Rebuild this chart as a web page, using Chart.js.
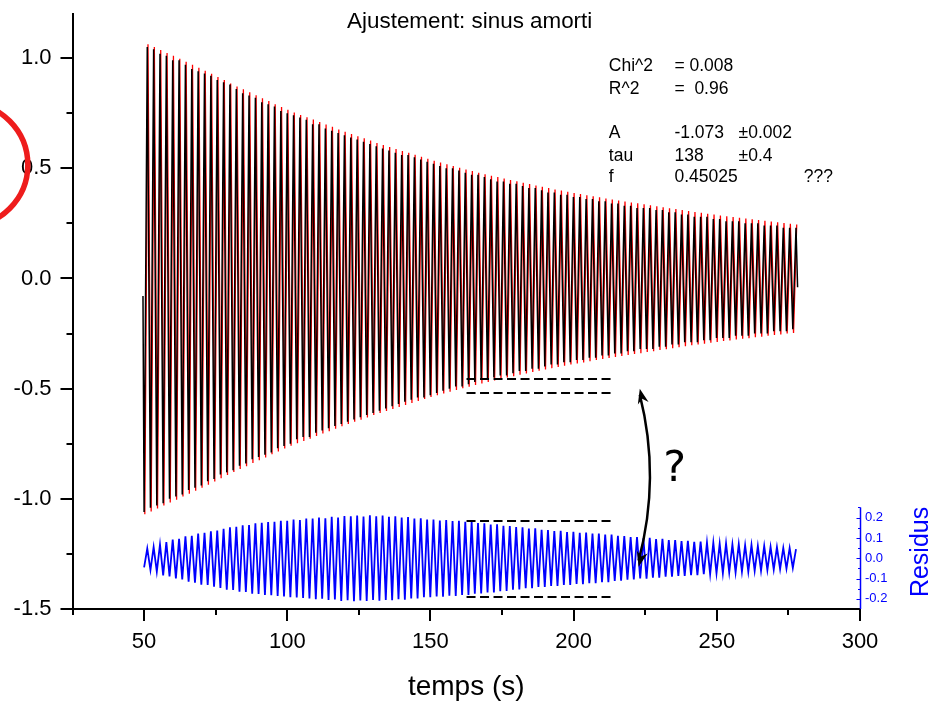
<!DOCTYPE html>
<html>
<head>
<meta charset="utf-8">
<script src="https://cdn.jsdelivr.net/npm/chart.js@4.4.1/dist/chart.umd.min.js"></script>
<style>
html,body{margin:0;padding:0;background:#fff;}
#wrap{width:947px;height:701px;}
</style>
</head>
<body>
<div id="wrap"><canvas id="c" width="947" height="701"></canvas></div>
<script>
// ---------------- data ----------------
const titleText = "Ajustement: sinus amorti";
const xTitle = "temps (s)";
const residTitle = "Residus";

const startTime = 50.0;      // first extreme (s)
const halfPeriod = 1.1105;   // half of 1/f, f = 0.45025

// measured signal (black): troughs and peaks, one per cycle
const dataTroughs = [-1.06,-1.04,-1.03,-1.02,-1.00,-0.99,-0.98,-0.96,-0.95,-0.94,
 -0.92,-0.91,-0.89,-0.88,-0.87,-0.85,-0.84,-0.82,-0.81,-0.80,
 -0.79,-0.77,-0.76,-0.75,-0.73,-0.72,-0.72,-0.70,-0.69,-0.68,
 -0.67,-0.66,-0.65,-0.64,-0.63,-0.62,-0.61,-0.60,-0.59,-0.58,
 -0.57,-0.56,-0.55,-0.54,-0.54,-0.53,-0.52,-0.51,-0.50,-0.49,
 -0.49,-0.48,-0.47,-0.46,-0.46,-0.45,-0.44,-0.44,-0.43,-0.42,
 -0.42,-0.41,-0.41,-0.40,-0.39,-0.39,-0.38,-0.38,-0.37,-0.37,
 -0.36,-0.36,-0.35,-0.35,-0.34,-0.34,-0.33,-0.33,-0.32,-0.32,
 -0.32,-0.31,-0.31,-0.30,-0.30,-0.29,-0.29,-0.29,-0.28,-0.28,
 -0.27,-0.27,-0.27,-0.26,-0.26,-0.26,-0.25,-0.25,-0.25,-0.24,
 -0.24,-0.24,-0.23];
const dataPeaks = [1.05,1.04,1.02,1.01,0.99,0.99,0.97,0.95,0.94,0.93,
 0.92,0.90,0.89,0.88,0.86,0.84,0.83,0.82,0.80,0.79,
 0.78,0.76,0.75,0.74,0.73,0.72,0.70,0.70,0.68,0.67,
 0.66,0.65,0.64,0.63,0.62,0.61,0.60,0.59,0.58,0.57,
 0.56,0.56,0.55,0.54,0.53,0.52,0.51,0.50,0.50,0.49,
 0.48,0.47,0.47,0.46,0.45,0.44,0.44,0.43,0.43,0.42,
 0.41,0.41,0.40,0.39,0.39,0.38,0.38,0.37,0.37,0.36,
 0.36,0.35,0.35,0.34,0.34,0.33,0.33,0.32,0.32,0.32,
 0.31,0.31,0.30,0.30,0.29,0.29,0.28,0.28,0.28,0.27,
 0.27,0.26,0.26,0.26,0.25,0.25,0.25,0.24,0.24,0.24,
 0.23,0.23,0.23];
const dataEnds = [-0.08, -0.04];   // value just before the first and after the last extreme

// fitted damped sine (red)
const fitTroughs = [-1.070,-1.057,-1.044,-1.030,-1.017,-1.004,-0.990,-0.977,-0.963,-0.950,
 -0.936,-0.921,-0.907,-0.892,-0.878,-0.865,-0.852,-0.838,-0.825,-0.812,
 -0.798,-0.785,-0.772,-0.759,-0.748,-0.738,-0.727,-0.715,-0.704,-0.693,
 -0.682,-0.671,-0.660,-0.650,-0.641,-0.631,-0.620,-0.611,-0.601,-0.592,
 -0.583,-0.574,-0.565,-0.556,-0.547,-0.538,-0.530,-0.522,-0.514,-0.506,
 -0.498,-0.491,-0.484,-0.477,-0.470,-0.463,-0.457,-0.450,-0.444,-0.437,
 -0.431,-0.425,-0.419,-0.413,-0.407,-0.402,-0.396,-0.391,-0.386,-0.381,
 -0.376,-0.370,-0.365,-0.361,-0.356,-0.352,-0.347,-0.343,-0.339,-0.334,
 -0.330,-0.325,-0.321,-0.317,-0.312,-0.308,-0.303,-0.300,-0.296,-0.292,
 -0.288,-0.284,-0.281,-0.277,-0.274,-0.271,-0.267,-0.264,-0.260,-0.257,
 -0.254,-0.250,-0.247];
const fitPeaks = [1.063,1.050,1.037,1.023,1.010,0.997,0.983,0.970,0.956,0.943,
 0.929,0.914,0.900,0.885,0.871,0.858,0.845,0.831,0.818,0.805,
 0.791,0.778,0.765,0.753,0.742,0.732,0.721,0.710,0.699,0.688,
 0.676,0.666,0.655,0.645,0.636,0.626,0.615,0.606,0.596,0.587,
 0.578,0.570,0.561,0.552,0.543,0.534,0.526,0.518,0.510,0.502,
 0.494,0.487,0.480,0.473,0.466,0.460,0.453,0.447,0.441,0.434,
 0.428,0.422,0.416,0.410,0.404,0.399,0.393,0.388,0.383,0.378,
 0.373,0.368,0.363,0.358,0.354,0.349,0.345,0.341,0.337,0.332,
 0.328,0.323,0.319,0.315,0.310,0.306,0.301,0.298,0.294,0.290,
 0.286,0.282,0.279,0.275,0.272,0.269,0.265,0.262,0.258,0.255,
 0.252,0.248,0.245];
const fitLag = 0.25;   // small phase lag of the fit (s)

// residuals (blue, right axis)
const residTroughs = [-0.045,-0.058,-0.066,-0.084,-0.090,-0.100,-0.104,-0.115,-0.120,-0.130,
 -0.131,-0.140,-0.146,-0.155,-0.156,-0.165,-0.166,-0.175,-0.176,-0.181,
 -0.182,-0.186,-0.188,-0.192,-0.193,-0.196,-0.198,-0.202,-0.199,-0.206,
 -0.203,-0.210,-0.207,-0.212,-0.208,-0.211,-0.205,-0.209,-0.206,-0.207,
 -0.202,-0.204,-0.198,-0.198,-0.192,-0.192,-0.188,-0.189,-0.185,-0.186,
 -0.181,-0.181,-0.175,-0.174,-0.168,-0.168,-0.162,-0.161,-0.155,-0.154,
 -0.148,-0.148,-0.142,-0.141,-0.136,-0.136,-0.131,-0.131,-0.127,-0.128,
 -0.123,-0.123,-0.118,-0.118,-0.112,-0.111,-0.106,-0.105,-0.100,-0.101,
 -0.096,-0.096,-0.091,-0.091,-0.087,-0.087,-0.083,-0.083,-0.079,-0.078,
 -0.074,-0.074,-0.070,-0.070,-0.066,-0.066,-0.062,-0.061,-0.058,-0.056,
 -0.053,-0.051,-0.048];
const residPeaks = [0.048,0.055,0.068,0.080,0.092,0.095,0.108,0.110,0.122,0.125,
 0.133,0.136,0.145,0.152,0.155,0.162,0.164,0.172,0.175,0.178,
 0.180,0.184,0.185,0.190,0.188,0.195,0.196,0.200,0.197,0.204,
 0.200,0.208,0.206,0.210,0.205,0.211,0.207,0.210,0.204,0.206,
 0.200,0.203,0.196,0.197,0.190,0.191,0.186,0.188,0.183,0.185,
 0.179,0.180,0.173,0.172,0.166,0.167,0.160,0.159,0.153,0.152,
 0.146,0.147,0.140,0.139,0.134,0.135,0.129,0.130,0.125,0.127,
 0.121,0.122,0.116,0.117,0.110,0.109,0.104,0.104,0.098,0.100,
 0.094,0.095,0.090,0.090,0.085,0.086,0.081,0.082,0.077,0.077,
 0.072,0.073,0.068,0.069,0.064,0.065,0.060,0.060,0.056,0.055,
 0.051,0.050,0.045];

// axes
const xTickValues = [50, 100, 150, 200, 250, 300];
const xMinorTicks = [25, 75, 125, 175, 225, 275];
const yTickValues = [-1.5, -1.0, -0.5, 0.0, 0.5, 1.0];
const yMinorTicks = [-1.25, -0.75, -0.25, 0.25, 0.75];
const residTickValues = [-0.2, -0.1, 0.0, 0.1, 0.2];
const residMinorTicks = [-0.15, -0.05, 0.05, 0.15, 0.25];

// fit report text
const statsLines = [
  ["Chi^2", "= 0.008", ""],
  ["R^2", "=  0.96", ""],
  ["A", "-1.073", "\u00b10.002"],
  ["tau", "138", "\u00b10.4"],
  ["f", "0.45025", "", "???"]
];

// ---------------- annotation placement (data units) ----------------
const annot = {
  title: [163.7, 1.137],
  statsCols: [212.3, 235.2, 257.6, 280.4],
  statsRows: [0.965, 0.860, 0.658, 0.556, 0.458],
  dashT: [162.6, 214.3],
  dashMain: [-0.457, -0.520],
  dashResid: [0.184, -0.192],
  arrowTop: [223.1, -0.500],
  arrowBottom: [222.7, -1.308],
  arrowCtrl: [230.4, -0.904],
  question: [235.3, -0.868],
  circle: [-12.2, 0.516, 21.6],
  residLabel: [321.5, 0.031]
};

// ---------------- build series ----------------
function buildSeries(troughs, peaks, lag, ends) {
  const pts = [];
  if (ends) pts.push({x: startTime - 0.35 * halfPeriod + lag, y: ends[0]});
  for (let k = 0; k < troughs.length; k++) {
    pts.push({x: startTime + 2 * k * halfPeriod + lag, y: troughs[k]});
    pts.push({x: startTime + (2 * k + 1) * halfPeriod + lag, y: peaks[k]});
  }
  if (ends) pts.push({x: startTime + (2 * troughs.length - 0.5) * halfPeriod + lag, y: ends[1]});
  return pts;
}
const dataPts = buildSeries(dataTroughs, dataPeaks, 0, dataEnds);
const fitPts = buildSeries(fitTroughs, fitPeaks, fitLag, null);
const residPts = buildSeries(residTroughs, residPeaks, 0, null);

const FONT = "'Liberation Sans', Arial, Helvetica, sans-serif";
Chart.defaults.font.family = FONT;

const overlay = {
  id: 'overlay',
  afterDraw(chart) {
    const ctx = chart.ctx;
    const xs = chart.scales.x, ys = chart.scales.y, yr = chart.scales.yr;
    const ca = chart.chartArea;
    const X = v => xs.getPixelForValue(v);
    const Y = v => ys.getPixelForValue(v);
    const R = v => yr.getPixelForValue(v);
    const seg = (x1, y1, x2, y2) => { ctx.beginPath(); ctx.moveTo(x1, y1); ctx.lineTo(x2, y2); ctx.stroke(); };
    ctx.save();

    // title
    ctx.fillStyle = '#000';
    ctx.font = '22.4px ' + FONT;
    ctx.textAlign = 'center'; ctx.textBaseline = 'alphabetic';
    ctx.fillText(titleText, X(annot.title[0]), Y(annot.title[1]));

    // main axis tick marks (outward)
    ctx.strokeStyle = '#000'; ctx.lineWidth = 2;
    xTickValues.forEach(v => { const p = Math.round(X(v)); seg(p, ca.bottom, p, ca.bottom + 12); });
    xMinorTicks.forEach(v => { const p = Math.round(X(v)); seg(p, ca.bottom, p, ca.bottom + 6); });
    yTickValues.forEach(v => { const p = Math.round(Y(v)); seg(ca.left - 12, p, ca.left, p); });
    yMinorTicks.forEach(v => { const p = Math.round(Y(v)); seg(ca.left - 6, p, ca.left, p); });

    // residual axis (inward ticks)
    ctx.strokeStyle = '#0000ff'; ctx.lineWidth = 1.5;
    const rx = Math.round(ca.right) + 0.5;
    seg(rx, R(0.25), rx, ca.bottom);
    ctx.lineWidth = 1;
    residTickValues.forEach(v => { const p = Math.round(R(v)) + 0.5; seg(rx - 4, p, rx, p); });
    residMinorTicks.forEach(v => { const p = Math.round(R(v)) + 0.5; seg(rx - 2.5, p, rx, p); });

    // "Residus" rotated title
    ctx.save();
    ctx.fillStyle = '#0000ff';
    ctx.font = '25px ' + FONT;
    ctx.textAlign = 'center'; ctx.textBaseline = 'middle';
    ctx.translate(X(annot.residLabel[0]), R(annot.residLabel[1]));
    ctx.rotate(-Math.PI / 2);
    ctx.fillText(residTitle, 0, 0);
    ctx.restore();

    // fit report
    ctx.fillStyle = '#000';
    ctx.font = '17.5px ' + FONT;
    ctx.textAlign = 'left'; ctx.textBaseline = 'middle';
    statsLines.forEach((row, i) => {
      const py = Y(annot.statsRows[i]);
      row.forEach((txt, j) => { if (txt) ctx.fillText(txt, X(annot.statsCols[j]), py); });
    });

    // dashed guide lines
    ctx.strokeStyle = '#000'; ctx.lineWidth = 2; ctx.setLineDash([9, 4.5]);
    const x1 = X(annot.dashT[0]), x2 = X(annot.dashT[1]);
    annot.dashMain.forEach(v => { const p = Math.round(Y(v)); seg(x1, p, x2, p); });
    annot.dashResid.forEach(v => { const p = Math.round(R(v)); seg(x1, p, x2, p); });
    ctx.setLineDash([]);

    // curved double arrow
    const p0 = {x: X(annot.arrowTop[0]), y: Y(annot.arrowTop[1])};
    const p2 = {x: X(annot.arrowBottom[0]), y: Y(annot.arrowBottom[1])};
    const c = {x: X(annot.arrowCtrl[0]), y: Y(annot.arrowCtrl[1])};
    ctx.strokeStyle = '#000'; ctx.lineWidth = 2.5;
    ctx.beginPath(); ctx.moveTo(p0.x, p0.y + 6); ctx.quadraticCurveTo(c.x, c.y, p2.x, p2.y - 6); ctx.stroke();
    const head = (tip, from) => {
      let dx = tip.x - from.x, dy = tip.y - from.y; const L = Math.hypot(dx, dy); dx /= L; dy /= L;
      const len = 15, w = 5.5, nx = -dy, ny = dx;
      ctx.beginPath();
      ctx.moveTo(tip.x, tip.y);
      ctx.lineTo(tip.x - dx * len + nx * w, tip.y - dy * len + ny * w);
      ctx.lineTo(tip.x - dx * len * 0.7, tip.y - dy * len * 0.7);
      ctx.lineTo(tip.x - dx * len - nx * w, tip.y - dy * len - ny * w);
      ctx.closePath(); ctx.fillStyle = '#000'; ctx.fill();
    };
    head(p0, c); head(p2, c);

    // question mark
    ctx.fillStyle = '#000';
    ctx.font = "43px 'DejaVu Sans', " + FONT;
    ctx.textAlign = 'center'; ctx.textBaseline = 'middle';
    ctx.fillText('?', X(annot.question[0]), Y(annot.question[1]));

    // red circle (partly off the canvas)
    const cx = X(annot.circle[0]), cy = Y(annot.circle[1]);
    const rad = X(annot.circle[0] + annot.circle[2]) - cx;
    ctx.strokeStyle = '#ee1c1c'; ctx.lineWidth = 5.5;
    ctx.beginPath(); ctx.arc(cx, cy, rad, 0, Math.PI * 2); ctx.stroke();

    ctx.restore();
  }
};

const noPad = s => { s.paddingTop = 0; s.paddingBottom = 0; s.paddingLeft = 0; s.paddingRight = 0; };

new Chart(document.getElementById('c'), {
  type: 'line',
  data: {
    datasets: [
      {label: 'data', data: dataPts, borderColor: '#000000', borderWidth: 1.5, pointRadius: 0, tension: 0, fill: false, xAxisID: 'x', yAxisID: 'y'},
      {label: 'fit', data: fitPts, borderColor: '#ff0000', borderWidth: 1.3, pointRadius: 0, tension: 0, fill: false, xAxisID: 'x', yAxisID: 'y'},
      {label: 'residus', data: residPts, borderColor: '#0000ff', borderWidth: 1.8, pointRadius: 0, tension: 0, fill: false, xAxisID: 'x', yAxisID: 'yr'}
    ]
  },
  options: {
    responsive: false,
    animation: false,
    devicePixelRatio: 1,
    layout: {padding: {top: 14, left: 0, right: 0, bottom: 0}},
    plugins: {
      legend: {display: false},
      tooltip: {enabled: false},
      title: {display: false}
    },
    scales: {
      x: {
        type: 'linear', position: 'bottom', min: 25, max: 300,
        afterBuildTicks: s => { s.ticks = xTickValues.map(v => ({value: v})); },
        afterFit: s => { s.height = 92; noPad(s); },
        grid: {display: false, drawTicks: false},
        border: {display: true, color: '#000', width: 2},
        ticks: {color: '#000', font: {size: 22}, padding: 20, maxRotation: 0, autoSkip: false, callback: v => String(v)},
        title: {display: true, text: xTitle, color: '#000', font: {size: 28, lineHeight: 1.0}, padding: {top: 0, bottom: 0}}
      },
      y: {
        type: 'linear', position: 'left', min: -1.5, max: 1.2,
        afterBuildTicks: s => { s.ticks = yTickValues.map(v => ({value: v})); },
        afterFit: s => { s.width = 72.5; noPad(s); },
        grid: {display: false, drawTicks: false},
        border: {display: true, color: '#000', width: 2},
        ticks: {color: '#000', font: {size: 22}, padding: 21, callback: v => v.toFixed(1)}
      },
      yr: {
        type: 'linear', position: 'right', min: -0.25, max: 2.68,
        afterBuildTicks: s => { s.ticks = residTickValues.map(v => ({value: v})); },
        afterFit: s => { s.width = 87; noPad(s); },
        grid: {display: false, drawTicks: false},
        border: {display: false},
        ticks: {color: '#0000ff', font: {size: 13}, padding: 5, callback: v => v.toFixed(1)}
      }
    }
  },
  plugins: [overlay]
});
</script>
</body>
</html>
